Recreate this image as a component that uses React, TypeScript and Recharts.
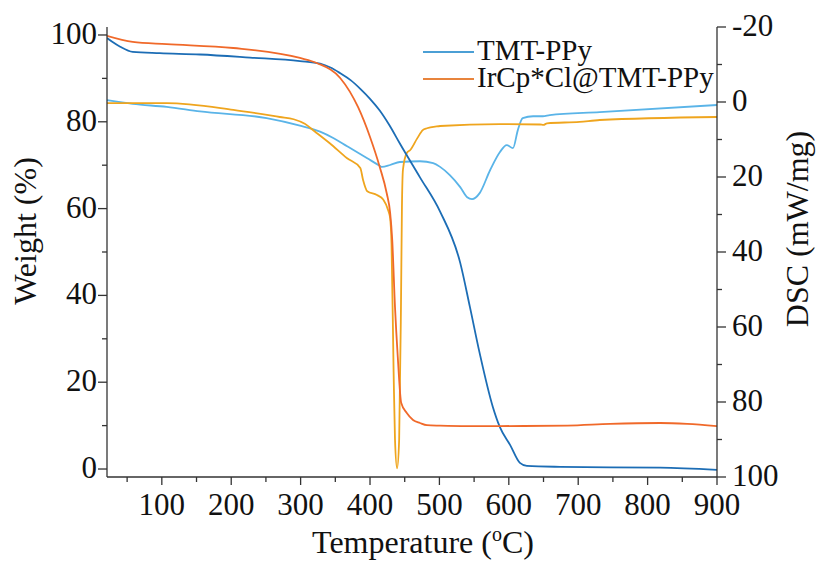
import { LineChart, Line, XAxis, YAxis, Legend } from 'recharts'

// TGA - weight (%) vs temperature (°C)
const tmtTemp = [21, 28, 40, 58, 97, 155, 227, 299, 328, 343, 357, 372, 386, 400, 414, 428, 443, 472, 501, 530, 544, 558, 577, 587, 602, 616, 626, 674, 818, 900]
const tmtWeight = [99.3, 98.5, 97.3, 96.1, 95.8, 95.5, 94.8, 94.0, 93.4, 92.5, 91.2, 89.6, 87.6, 85.3, 82.6, 79.2, 75.0, 67.2, 59.3, 47.5, 37.3, 26.7, 14.3, 9.7, 5.5, 1.4, 0.7, 0.5, 0.3, -0.2]

const irTemp = [21, 58, 107, 203, 299, 324, 357, 383, 400, 414, 424, 429, 432, 436, 440, 445, 453, 462, 472, 482, 501, 540, 587, 684, 746, 818, 857, 900]
const irWeight = [99.8, 98.4, 97.9, 97.0, 94.7, 93.5, 90.1, 83.3, 76.5, 69.6, 63.6, 59.0, 52.8, 37.3, 25.8, 15.2, 12.9, 11.3, 10.6, 10.1, 10.0, 9.9, 9.9, 10.0, 10.4, 10.6, 10.4, 9.9]

// DSC - mW/mg vs temperature (°C)
const tmtDscTemp = [21, 58, 107, 155, 251, 299, 328, 347, 367, 396, 414, 417, 429, 443, 472, 491, 501, 515, 530, 540, 547, 558, 573, 587, 597, 606, 613, 620, 635, 649, 659, 731, 900]
const tmtDsc = [-0.5, 0.5, 1.3, 2.5, 4.3, 6.3, 7.9, 9.6, 11.8, 15.0, 17.0, 17.3, 16.8, 16.0, 15.8, 16.3, 17.3, 19.5, 22.7, 25.4, 25.9, 24.3, 18.2, 13.4, 11.5, 12.3, 7.5, 4.3, 3.8, 3.8, 3.5, 2.7, 0.8]

const irDscTemp = [21, 107, 203, 270, 290, 306, 320, 342, 367, 386, 390, 396, 410, 419, 426, 429, 431, 434, 436, 439, 442, 444.6, 446, 447.5, 453, 458, 468, 476, 482, 496, 501, 587, 645, 650, 655, 702, 731, 900]
const irDsc = [0.3, 0.3, 2.1, 4.0, 4.6, 5.8, 7.8, 11.0, 15.0, 17.6, 20.8, 23.8, 24.8, 26.0, 28.8, 31.0, 38.0, 72.0, 90.0, 97.7, 90.0, 54.7, 28.0, 18.0, 13.6, 12.8, 9.7, 7.5, 7.0, 6.5, 6.4, 5.9, 6.0, 6.1, 5.7, 5.3, 4.8, 4.0]

const seriesNames = ['TMT-PPy', 'IrCp*Cl@TMT-PPy']

const xTicks = [50, 100, 150, 200, 250, 300, 350, 400, 450, 500, 550, 600, 650, 700, 750, 800, 850, 900]
const weightTicks = [0, 10, 20, 30, 40, 50, 60, 70, 80, 90, 100]
const dscTicks = [-20, -10, 0, 10, 20, 30, 40, 50, 60, 70, 80, 90, 100]

const tmtTga = tmtTemp.map((t, i) => ({ t, w: tmtWeight[i] }))
const irTga = irTemp.map((t, i) => ({ t, w: irWeight[i] }))
const tmtDscData = tmtDscTemp.map((t, i) => ({ t, d: tmtDsc[i] }))
const irDscData = irDscTemp.map((t, i) => ({ t, d: irDsc[i] }))

const FONT = "'Liberation Serif', 'Times New Roman', serif"
const AXIS = '#333'
const legendColors = ['#4b9fd5', '#e8843c']

const BottomTick = (props: any) => {
  const { x, y, payload } = props
  const major = payload.value % 100 === 0
  return (
    <g>
      <line x1={x} x2={x} y1={y} y2={y + (major ? 8 : 5)} stroke={AXIS} strokeWidth={1.3} />
      {major && (
        <text x={x} y={y + 38} textAnchor="middle" fontFamily={FONT} fontSize={31} fill="#111">
          {payload.value}
        </text>
      )}
    </g>
  )
}

const LeftTick = (props: any) => {
  const { x, y, payload } = props
  const major = payload.value % 20 === 0
  return (
    <g>
      <line x1={x - (major ? 9 : 5)} x2={x} y1={y} y2={y} stroke={AXIS} strokeWidth={1.3} />
      {major && (
        <text x={x - 10} y={y + 9} textAnchor="end" fontFamily={FONT} fontSize={31} fill="#111">
          {payload.value}
        </text>
      )}
    </g>
  )
}

const RightTick = (props: any) => {
  const { x, y, payload } = props
  const major = payload.value % 20 === 0
  return (
    <g>
      <line x1={x} x2={x + (major ? 9 : 5)} y1={y} y2={y} stroke={AXIS} strokeWidth={1.3} />
      {major && (
        <text x={x + 15} y={y + 9} textAnchor="start" fontFamily={FONT} fontSize={31} fill="#111">
          {payload.value}
        </text>
      )}
    </g>
  )
}

const LegendBox = () => (
  <svg width={300} height={70} style={{ display: 'block', overflow: 'visible' }}>
    {seriesNames.map((name, i) => (
      <g key={name}>
        <line x1={8} x2={59} y1={17 + 27 * i} y2={17 + 27 * i} stroke={legendColors[i]} strokeWidth={2} />
        <text x={62} y={25 + 27 * i} fontFamily={FONT} fontSize={29} fill="#111">
          {name}
        </text>
      </g>
    ))}
  </svg>
)

export default function App() {
  return (
    <div>
      <style>{'body{margin:0;overflow:hidden}'}</style>
      <LineChart width={818} height={563} margin={{ top: 27, right: 0, bottom: 0, left: 0 }}>
        <XAxis
          dataKey="t"
          type="number"
          domain={[21, 900]}
          allowDataOverflow
          ticks={xTicks}
          interval={0}
          tick={<BottomTick />}
          tickLine={false}
          tickSize={0}
          tickMargin={0}
          height={86}
          axisLine={{ stroke: AXIS, strokeWidth: 1.3 }}
          label={{
            content: (p: any) => {
              const vb = p.viewBox
              return (
                <text x={vb.x + vb.width / 2 + 11} y={vb.y + 76} textAnchor="middle" fontFamily={FONT} fontSize={32} fill="#111">
                  Temperature (<tspan fontSize={20} dy={-12}>o</tspan>
                  <tspan dy={12}>C)</tspan>
                </text>
              )
            },
          }}
        />
        <XAxis xAxisId="top" orientation="top" type="number" domain={[21, 900]} height={0} tick={false} tickLine={false} axisLine={{ stroke: AXIS, strokeWidth: 1.3 }} />
        <YAxis
          yAxisId="w"
          type="number"
          domain={[-1.84, 101.84]}
          allowDataOverflow
          ticks={weightTicks}
          interval={0}
          tick={<LeftTick />}
          tickLine={false}
          tickSize={0}
          tickMargin={0}
          width={107}
          axisLine={{ stroke: AXIS, strokeWidth: 1.3 }}
          label={{
            content: (p: any) => {
              const vb = p.viewBox
              const cx = vb.x + 36
              const cy = vb.y + vb.height / 2 - 21
              return (
                <text x={cx} y={cy} transform={`rotate(-90 ${cx} ${cy})`} textAnchor="middle" fontFamily={FONT} fontSize={32} fill="#111">
                  Weight (%)
                </text>
              )
            },
          }}
        />
        <YAxis
          yAxisId="d"
          orientation="right"
          type="number"
          domain={[-20, 100]}
          reversed
          allowDataOverflow
          ticks={dscTicks}
          interval={0}
          tick={<RightTick />}
          tickLine={false}
          tickSize={0}
          tickMargin={0}
          width={101}
          axisLine={{ stroke: AXIS, strokeWidth: 1.3 }}
          label={{
            content: (p: any) => {
              const vb = p.viewBox
              const cx = vb.x + 91
              const cy = vb.y + vb.height / 2 - 23
              return (
                <text x={cx} y={cy} transform={`rotate(-90 ${cx} ${cy})`} textAnchor="middle" fontFamily={FONT} fontSize={32} fill="#111">
                  DSC (mW/mg)
                </text>
              )
            },
          }}
        />
        <Legend
          layout="vertical"
          align="center"
          verticalAlign="middle"
          content={<LegendBox />}
          wrapperStyle={{ left: 415, top: 35, width: 300, height: 70 }}
        />
        <Line yAxisId="d" data={tmtDscData} dataKey="d" type="monotone" stroke="#5ab4e8" strokeWidth={1.8} dot={false} isAnimationActive={false} legendType="none" />
        <Line yAxisId="d" data={irDscData} dataKey="d" type="monotone" stroke="#efa51e" strokeWidth={1.8} dot={false} isAnimationActive={false} legendType="none" />
        <Line yAxisId="w" data={tmtTga} dataKey="w" name={seriesNames[0]} type="monotone" stroke="#1c6db5" strokeWidth={1.8} dot={false} isAnimationActive={false} />
        <Line yAxisId="w" data={irTga} dataKey="w" name={seriesNames[1]} type="monotone" stroke="#f0692a" strokeWidth={1.8} dot={false} isAnimationActive={false} />
      </LineChart>
    </div>
  )
}
